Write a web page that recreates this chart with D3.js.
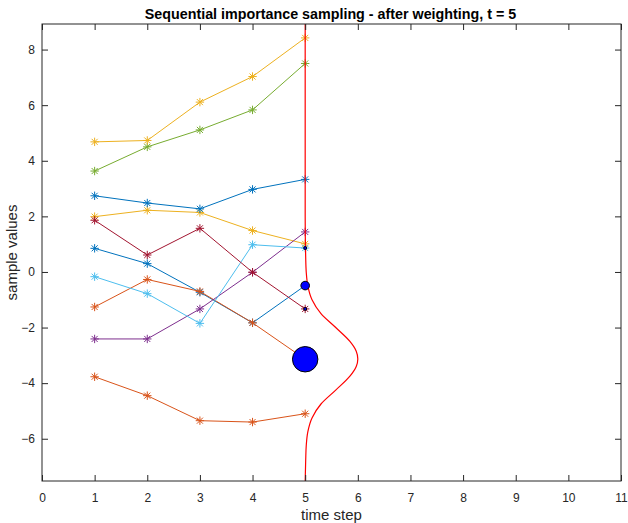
<!DOCTYPE html>
<html>
<head>
<meta charset="utf-8">
<script src="https://cdn.jsdelivr.net/npm/d3@7"></script>
<style>
  body { margin: 0; background: #fff; }
  text { font-family: "Liberation Sans", Arial, sans-serif; fill: #262626; }
</style>
</head>
<body>
<svg id="chart"></svg>
<script>
// time steps
var steps = [1, 2, 3, 4, 5];

// sample trajectories, one per particle
var p1  = [0.85, 0.30, -0.73, -1.83, -0.49];
var p2  = [-1.26, -0.27, -0.70, -1.83, -3.14];
var p3  = [1.99, 2.22, 2.14, 1.49, 1.01];
var p4  = [-2.41, -2.41, -1.33, -0.01, 1.44];
var p5  = [3.63, 4.50, 5.11, 5.83, 7.50];
var p6  = [-0.17, -0.78, -1.85, 0.98, 0.86];
var p7  = [1.86, 0.61, 1.57, -0.01, -1.33];
var p8  = [2.74, 2.48, 2.27, 2.97, 3.33];
var p9  = [-3.77, -4.45, -5.35, -5.40, -5.10];
var p10 = [4.68, 4.73, 6.11, 7.03, 8.42];
var particles = [p1, p2, p3, p4, p5, p6, p7, p8, p9, p10];

// normalised weights at t = 5
var weights = [0.10, 0.875, 0, 0, 0, 0.012, 0.012, 0, 0, 0];

// likelihood curve, drawn sideways at t = 5 (sample value, offset)
var likeY = [8.92, 2.0, 0.5, 0.0, -0.5, -1.0, -1.5, -2.0, -2.5, -2.85, -3.13, -3.4, -3.75, -4.25, -4.75, -5.25, -5.75, -6.25, -6.75, -7.52];
var likeX = [0, 0, 0.01, 0.02, 0.05, 0.13, 0.30, 0.58, 0.85, 0.97, 1.0, 0.97, 0.85, 0.58, 0.30, 0.13, 0.05, 0.02, 0.01, 0];

var xTicks = [0, 1, 2, 3, 4, 5, 6, 7, 8, 9, 10, 11];
var yTicks = [-6, -4, -2, 0, 2, 4, 6, 8];

var colors = ["#0072BD", "#D95319", "#EDB120", "#7E2F8E", "#77AC30", "#4DBEEE", "#A2142F"];

var screen = {width: 628, height: 523};
var margins = {top: 24, right: 7, bottom: 42, left: 42};
var w = screen.width - margins.left - margins.right;
var h = screen.height - margins.top - margins.bottom;

var svg = d3.select("#chart")
  .attr("width", screen.width)
  .attr("height", screen.height);

var x = d3.scaleLinear().domain([0, 11]).range([0, w]);
var y = d3.scaleLinear().domain([-7.52, 8.92]).range([h, 0]);
var radius = d3.scaleSqrt().domain([0, 1]).range([0, 13.6]);

var g = svg.append("g").attr("transform", "translate(" + margins.left + "," + margins.top + ")");

// clip for data
g.append("clipPath").attr("id", "clip")
  .append("rect").attr("width", w).attr("height", h);

var plot = g.append("g").attr("clip-path", "url(#clip)");

var line = d3.line()
  .x(function(d, i) { return x(steps[i]); })
  .y(function(d) { return y(d); });

// star marker (+ and x)
var star = function(s) {
  var d = s * 0.72;
  return "M" + (-s) + ",0L" + s + ",0M0," + (-s) + "L0," + s +
    "M" + (-d) + "," + (-d) + "L" + d + "," + d +
    "M" + (-d) + "," + d + "L" + d + "," + (-d);
};

particles.forEach(function(p, k) {
  var c = colors[k % colors.length];
  plot.append("path")
    .attr("d", line(p))
    .style("fill", "none")
    .style("stroke", c)
    .style("stroke-width", 1);
  plot.selectAll(".m" + k)
    .data(p)
    .enter().append("path")
    .attr("transform", function(d, i) { return "translate(" + x(steps[i]) + "," + y(d) + ")"; })
    .attr("d", star(4.2))
    .style("fill", "none")
    .style("stroke", c)
    .style("stroke-width", 1);
});

// likelihood curve
var curve = d3.line()
  .x(function(d, i) { return x(5 + likeX[i]); })
  .y(function(d) { return y(d); })
  .curve(d3.curveMonotoneY);

plot.append("path")
  .attr("d", curve(likeY))
  .style("fill", "none")
  .style("stroke", "#ff0000")
  .style("stroke-width", 1.2);

// weight circles
plot.selectAll(".wt")
  .data(particles)
  .enter().append("circle")
  .attr("class", "wt")
  .attr("cx", x(5))
  .attr("cy", function(p) { return y(p[4]); })
  .attr("r", function(p, i) { return radius(weights[i]); })
  .style("fill", "#0000ff")
  .style("stroke", "#000")
  .style("stroke-width", function(p, i) { return weights[i] > 0 ? 1 : 0; });

// axes box with inward ticks
var axisColor = "#262626";
var tl = 6;

g.append("rect")
  .attr("width", w).attr("height", h)
  .style("fill", "none")
  .style("stroke", axisColor)
  .style("stroke-width", 1);

var axBottom = g.append("g").attr("transform", "translate(0," + h + ")")
  .call(d3.axisBottom(x).tickValues(xTicks).tickSizeInner(-tl).tickSizeOuter(0).tickPadding(12));
var axTop = g.append("g")
  .call(d3.axisTop(x).tickValues(xTicks).tickSizeInner(-tl).tickSizeOuter(0).tickFormat(""));
var axLeft = g.append("g")
  .call(d3.axisLeft(y).tickValues(yTicks).tickSizeInner(-tl).tickSizeOuter(0).tickPadding(7));
var axRight = g.append("g").attr("transform", "translate(" + w + ",0)")
  .call(d3.axisRight(y).tickValues(yTicks).tickSizeInner(-tl).tickSizeOuter(0).tickFormat(""));

[axBottom, axTop, axLeft, axRight].forEach(function(a) {
  a.select(".domain").remove();
  a.selectAll("line").style("stroke", axisColor);
  a.selectAll("text").style("font-size", "12px").style("fill", axisColor)
    .style("font-family", "'Liberation Sans', Arial, sans-serif");
});

// labels
svg.append("text")
  .attr("x", margins.left + w / 2 - 1).attr("y", 19)
  .attr("text-anchor", "middle")
  .style("font-size", "14.3px").style("font-weight", "bold").style("fill", "#000")
  .text("Sequential importance sampling - after weighting, t = 5");

svg.append("text")
  .attr("x", margins.left + w / 2).attr("y", 520)
  .attr("text-anchor", "middle")
  .style("font-size", "15px")
  .text("time step");

svg.append("text")
  .attr("transform", "translate(17," + (margins.top + h / 2) + ") rotate(-90)")
  .attr("text-anchor", "middle")
  .style("font-size", "15px")
  .text("sample values");
</script>
</body>
</html>
